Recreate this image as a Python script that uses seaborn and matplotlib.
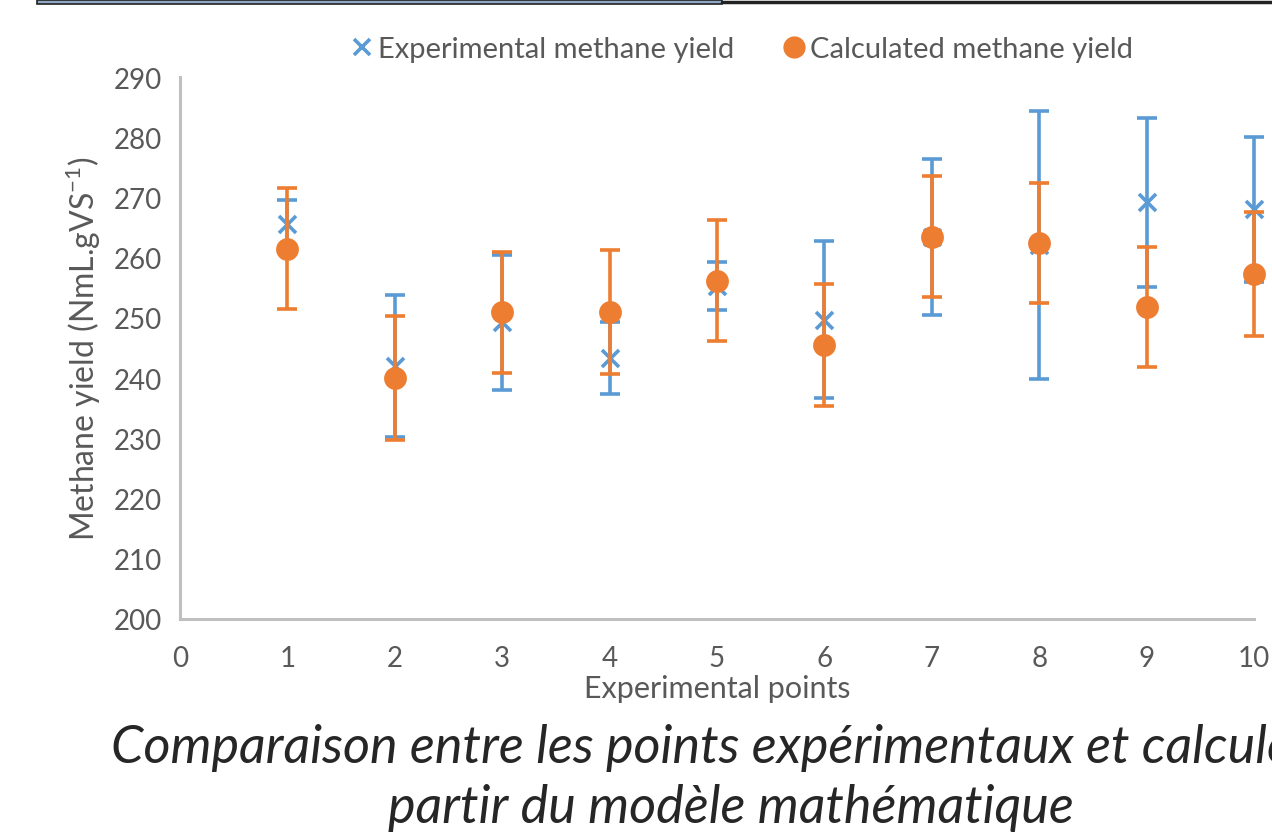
import matplotlib
matplotlib.use("Agg")
import matplotlib.pyplot as plt
from matplotlib.lines import Line2D
from matplotlib.patches import Rectangle
import seaborn as sns
import pandas as pd

# Values
points = [1, 2, 3, 4, 5, 6, 7, 8, 9, 10]
exp_yield = [265.6, 242.0, 249.3, 243.3, 255.3, 249.7, 263.4, 262.1, 269.2, 268.0]
exp_err = [4.0, 11.8, 11.2, 6.0, 4.0, 13.0, 13.0, 22.2, 14.0, 12.0]
calc_yield = [261.5, 240.0, 250.9, 250.9, 256.2, 245.5, 263.5, 262.4, 251.8, 257.3]
calc_err = [10.1, 10.3, 10.0, 10.3, 10.1, 10.1, 10.0, 10.0, 10.0, 10.3]

df = pd.DataFrame({"point": points, "exp": exp_yield, "exp_err": exp_err,
                   "calc": calc_yield, "calc_err": calc_err})

blue = "#5B9BD5"
orange = "#ED7D31"
grey_txt = "#595959"
grey_ax = "#BFBFBF"

sns.set_theme(style="white")
plt.rcParams["font.family"] = ["Lato", "DejaVu Sans"]

fig = plt.figure(figsize=(12.72, 8.37), dpi=100)
ax = fig.add_axes([180 / 1272, 1 - 620 / 837, (1254 - 180) / 1272, (620 - 78) / 837])

# experimental series (drawn first, orange goes on top)
ax.errorbar(df["point"], df["exp"], yerr=df["exp_err"], fmt="none", ecolor=blue,
            elinewidth=2.6, capsize=7, capthick=2.6, clip_on=False, zorder=2)
sns.scatterplot(data=df, x="point", y="exp", marker="x", s=150, color=blue,
                linewidth=2.6, ax=ax, clip_on=False, zorder=3)

# calculated series
ax.errorbar(df["point"], df["calc"], yerr=df["calc_err"], fmt="none", ecolor=orange,
            elinewidth=2.6, capsize=7, capthick=2.6, clip_on=False, zorder=4)
sns.scatterplot(data=df, x="point", y="calc", marker="o", s=270, color=orange,
                edgecolor=orange, linewidth=0, ax=ax, clip_on=False, zorder=5)

ax.set_xlim(0, 10)
ax.set_ylim(200, 290)
ax.set_xticks(range(0, 11))
ax.set_yticks(range(200, 291, 10))
for s in ["top", "right"]:
    ax.spines[s].set_visible(False)
for s in ["left", "bottom"]:
    ax.spines[s].set_color(grey_ax)
    ax.spines[s].set_linewidth(2.2)
ax.tick_params(axis="both", colors=grey_ax, labelcolor=grey_txt, labelsize=20,
               length=7, width=1.8, direction="out")
ax.tick_params(axis="x", pad=12)
ax.tick_params(axis="y", pad=6)

ax.set_xlabel("Experimental points", fontsize=22, color=grey_txt, labelpad=2)
ax.set_ylabel("Methane yield (NmL.gVS$^{\\mathregular{-1}}$)", fontsize=23,
              color=grey_txt, labelpad=8)

handles = [
    Line2D([], [], marker="x", linestyle="none", color=blue, markersize=11, markeredgewidth=2.6),
    Line2D([], [], marker="o", linestyle="none", color=orange, markersize=15),
]
fig.legend(handles, ["Experimental methane yield", "Calculated methane yield"],
           loc="center", bbox_to_anchor=(741 / 1272, 1 - 50 / 837), ncol=2,
           frameon=False, fontsize=21, labelcolor=grey_txt,
           handletextpad=0.1, columnspacing=1.6, handlelength=0.9)

# caption below the chart (the screenshot cuts its first line at the right edge)
fig.text(731 / 1272, 1 - 748 / 837, "Comparaison entre les points expérimentaux et calculés à",
         ha="center", va="center", fontsize=37.5, style="italic", color="#262626")
fig.text(731 / 1272, 1 - 808 / 837, "partir du modèle mathématique",
         ha="center", va="center", fontsize=37.5, style="italic", color="#262626")

# strip of the table border at the top of the screenshot
fig.add_artist(Rectangle((37 / 1272, 1 - 4.5 / 837), (722 - 37) / 1272, 4 / 837,
                         transform=fig.transFigure, facecolor="#8FA9C4",
                         edgecolor="#222222", linewidth=1.2))
fig.add_artist(Line2D([722 / 1272, 1], [1 - 2.5 / 837, 1 - 2.5 / 837],
                      transform=fig.transFigure, color="#222222", linewidth=2.5))

fig.savefig("out.png", dpi=100)
